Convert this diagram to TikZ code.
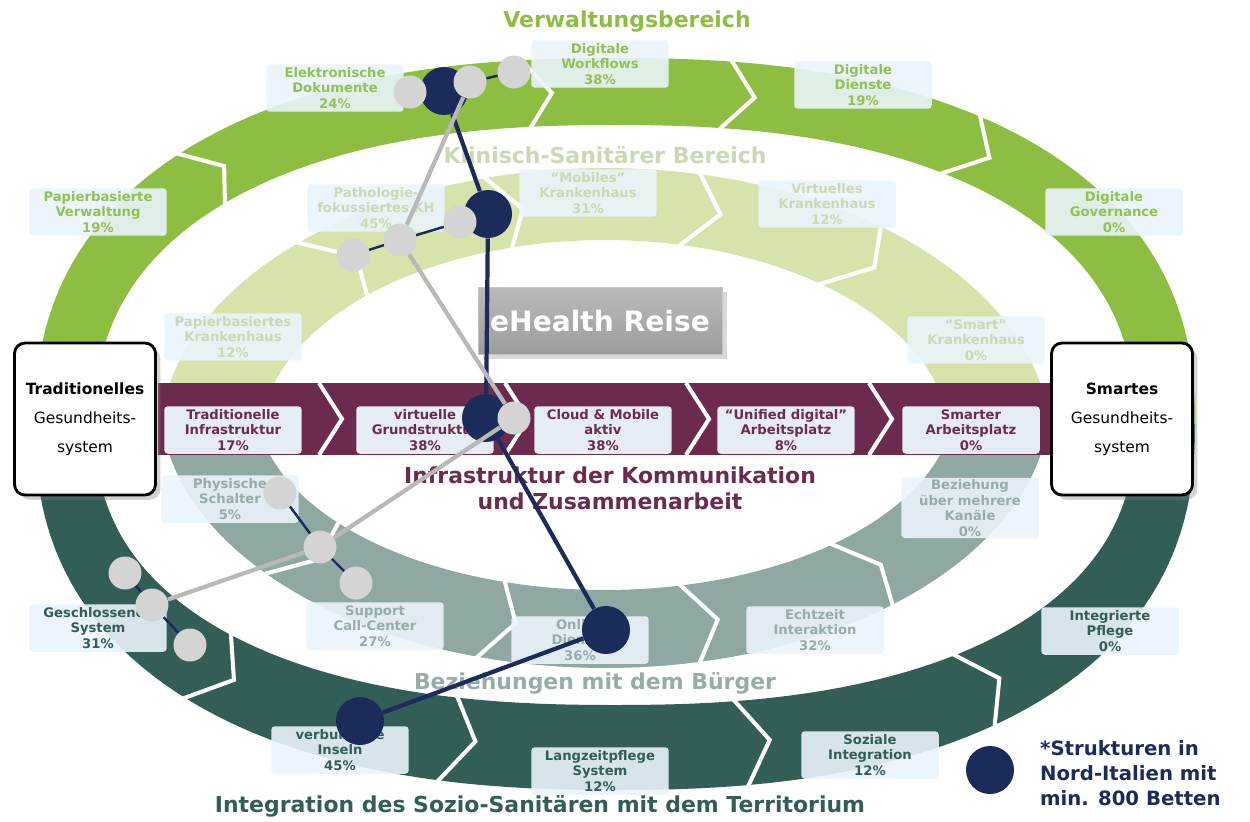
\documentclass[tikz,border=0pt]{standalone}
\usepackage{fontspec}
\setmainfont{DejaVu Sans}
\usepackage{xcolor}
\usetikzlibrary{shadows}

\definecolor{verwGreen}{RGB}{141,190,66}
\definecolor{verwText}{RGB}{146,192,82}
\definecolor{klinGreen}{RGB}{214,228,172}
\definecolor{klinText}{RGB}{203,217,178}
\definecolor{infraRed}{RGB}{108,42,78}
\definecolor{buergGray}{RGB}{143,168,163}
\definecolor{buergText}{RGB}{150,172,168}
\definecolor{terrTeal}{RGB}{50,94,87}
\definecolor{navy}{RGB}{27,43,90}
\definecolor{dotGray}{RGB}{212,212,212}
\definecolor{lineGray}{RGB}{184,184,184}
\definecolor{boxBlue}{RGB}{234,244,251}
\definecolor{ehGray}{RGB}{156,156,156}

\begin{document}
\begin{tikzpicture}[
  x=0.02cm, y=-0.02cm,
  declare function={sqc(\t)=cos(\t)*pow(abs(cos(\t))+0.0001,-0.15);
                    sqs(\t)=sin(\t)*pow(abs(sin(\t))+0.0001,-0.15);},
  chev/.style={white, line width=2.3pt},
  lbl/.style={rectangle, rounded corners=2pt, fill=boxBlue, fill opacity=0.9, text opacity=1,
    minimum width=2.75cm, minimum height=0.95cm, inner sep=1pt, align=center,
    font=\bfseries\fontsize{7.5}{8.8}\selectfont},
  verwlbl/.style={lbl, text=verwText},
  kliniklbl/.style={lbl, text=klinText},
  infralbl/.style={lbl, text=infraRed, fill opacity=0.96},
  buerglbl/.style={lbl, text=buergText},
  terrlbl/.style={lbl, text=terrTeal},
  ringtitle/.style={font=\bfseries\fontsize{12.5}{14.7}\selectfont, align=center},
  sidebox/.style={rectangle, rounded corners=6pt, draw=black, line width=1.6pt, fill=white,
    minimum width=2.82cm, minimum height=3.04cm, align=center, drop shadow={opacity=0.35},
    font=\fontsize{8.8}{16.5}\selectfont},
  ehbox/.style={rectangle, top color=ehGray!70, bottom color=ehGray, draw=ehGray!60,
    minimum width=4.88cm, minimum height=1.34cm, text=white, drop shadow={opacity=0.3},
    font=\bfseries\fontsize{16}{16}\selectfont},
  navydot/.style={circle, fill=navy, minimum size=0.96cm, inner sep=0pt},
  graydot/.style={circle, fill=dotGray, minimum size=0.66cm, inner sep=0pt},
  navyline/.style={navy, line width=2.4pt},
  rangeline/.style={navy, line width=1.4pt},
  avgline/.style={lineGray, line width=2.4pt}
]
  \useasboundingbox (0,0) rectangle (1250,821);
  \fill[white] (0,0) rectangle (1250,821);

  % Rings
  \fill[verwGreen] plot[domain=180:360, samples=91] ({615+580*sqc(\x)},{424+366*sqs(\x)})
    -- plot[domain=360:180, samples=91] ({615+520*sqc(\x)},{424+299*sqs(\x)}) -- cycle;
  \fill[terrTeal] plot[domain=0:180, samples=91] ({615+580*sqc(\x)},{424+366*sqs(\x)})
    -- plot[domain=180:0, samples=91] ({615+520*sqc(\x)},{424+281*sqs(\x)}) -- cycle;
  \fill[buergGray] plot[domain=0:180, samples=91] ({605+445*cos(\x)},{400+268*sin(\x)})
    -- plot[domain=180:0, samples=91] ({605+350*cos(\x)},{400+190*sin(\x)}) -- cycle;
  \fill[klinGreen] plot[domain=180:360, samples=91] ({605+445*cos(\x)},{440+272*sin(\x)})
    -- plot[domain=360:180, samples=91] ({605+345*cos(\x)},{440+200*sin(\x)}) -- cycle;
  \fill[infraRed] (158,383) rectangle (1052,455);

  % Chevrons
  \foreach \a/\d in {224/4, 263/2.5, 278.5/3, 305/4.5}
    \draw[chev] ({615+584*sqc(\a)},{424+370*sqs(\a)}) -- ({615+550*sqc(\a+\d)},{424+332*sqs(\a+\d)})
      -- ({615+516*sqc(\a)},{424+295*sqs(\a)});
  \foreach \a/\d in {135/4.5, 104.5/3, 80/3, 53/4}
    \draw[chev] ({615+584*sqc(\a)},{424+370*sqs(\a)}) -- ({615+550*sqc(\a-\d)},{424+323*sqs(\a-\d)})
      -- ({615+516*sqc(\a)},{424+277*sqs(\a)});
  \foreach \a/\d in {226/5, 254/4, 282/5, 308/5}
    \draw[chev] ({605+449*cos(\a)},{440+276*sin(\a)}) -- ({605+395*cos(\a+\d)},{440+236*sin(\a+\d)})
      -- ({605+341*cos(\a)},{440+196*sin(\a)});
  \foreach \a/\d in {140/4, 107/4, 78/4.5, 50/4}
    \draw[chev] ({605+449*cos(\a)},{400+272*sin(\a)}) -- ({605+397*cos(\a-\d)},{400+229*sin(\a-\d)})
      -- ({605+346*cos(\a)},{400+186*sin(\a)});
  \foreach \x in {319,505,686,869}
    \draw[chev] (\x,383) -- (\x+23,419) -- (\x,455);

  % Ring titles
  \node[ringtitle, text=verwGreen] (tVerw) at (627,22) {Verwaltungsbereich};
  \node[ringtitle, text=klinText] (tKlin) at (605,155) {Klinisch-Sanitärer Bereich};
  \node[ringtitle, text=infraRed] (tInfra) at (610,488) {Infrastruktur der Kommunikation\\und Zusammenarbeit};
  \node[ringtitle, text=buergText] (tBuerg) at (595,683) {Beziehungen mit dem Bürger};
  \node[ringtitle, text=terrTeal] (tTerr) at (540,806) {Integration des Sozio-Sanitären mit dem Territorium};

  % Stages
  \node[verwlbl] (papVerw) at (98,212) {Papierbasierte\\Verwaltung\\19\%};
  \node[verwlbl] (elekDok) at (335,88) {Elektronische\\Dokumente\\24\%};
  \node[verwlbl] (digWork) at (600,64) {Digitale\\Workflows\\38\%};
  \node[verwlbl] (digDienst) at (863,85) {Digitale\\Dienste\\19\%};
  \node[verwlbl] (digGov) at (1114,212) {Digitale\\Governance\\0\%};

  \node[kliniklbl] (papKH) at (233,337) {Papierbasiertes\\Krankenhaus\\12\%};
  \node[kliniklbl] (pathKH) at (376,208) {Pathologie-\\fokussiertes KH\\45\%};
  \node[kliniklbl] (mobKH) at (588,193) {“Mobiles”\\Krankenhaus\\31\%};
  \node[kliniklbl] (virtKH) at (827,204) {Virtuelles\\Krankenhaus\\12\%};
  \node[kliniklbl] (smartKH) at (976,340) {“Smart”\\Krankenhaus\\0\%};

  \node[infralbl] (tradInf) at (233,430) {Traditionelle\\Infrastruktur\\17\%};
  \node[infralbl] (virtGrund) at (425,430) {virtuelle\\Grundstruktur\\38\%};
  \node[infralbl] (cloudMob) at (603,430) {Cloud \& Mobile\\aktiv\\38\%};
  \node[infralbl] (unifArb) at (786,430) {“Unified digital”\\Arbeitsplatz\\8\%};
  \node[infralbl] (smartArb) at (971,430) {Smarter\\Arbeitsplatz\\0\%};

  \node[buerglbl] (physSch) at (230,499) {Physische\\Schalter\\5\%};
  \node[buerglbl] (suppCC) at (375,626) {Support\\Call-Center\\27\%};
  \node[buerglbl] (onlDienst) at (580,640) {Online\\Dienste\\36\%};
  \node[buerglbl] (echtInt) at (815,630) {Echtzeit\\Interaktion\\32\%};
  \node[buerglbl] (bezKan) at (970,508) {Beziehung\\über mehrere\\Kanäle\\0\%};

  \node[terrlbl] (geschSys) at (98,628) {Geschlossenes\\System\\31\%};
  \node[terrlbl] (verbIns) at (340,750) {verbundene\\Inseln\\45\%};
  \node[terrlbl] (langPfl) at (600,771) {Langzeitpflege\\System\\12\%};
  \node[terrlbl] (sozInt) at (870,755) {Soziale\\Integration\\12\%};
  \node[terrlbl] (intPfl) at (1110,631) {Integrierte\\Pflege\\0\%};

  % Center and ends
  \node[ehbox] (ehealth) at (600,321) {eHealth Reise};
  \node[sidebox] (trad) at (85,419) {\textbf{Traditionelles}\\Gesundheits-\\system};
  \node[sidebox] (smart) at (1122,419) {\textbf{Smartes}\\Gesundheits-\\system};

  % Path of the large structures
  \node[navydot] (nVerw) at (444,91) {};
  \node[navydot] (nKlin) at (488,214) {};
  \node[navydot] (nInfra) at (486,418) {};
  \node[navydot] (nBuerg) at (606,630) {};
  \node[navydot] (nTerr) at (360,721) {};
  \draw[navyline] (nVerw) -- (nKlin) -- (nInfra) -- (nBuerg) -- (nTerr);

  % Ranges and average
  \node[graydot] (gVerwA) at (410,92) {};
  \node[graydot] (gVerw) at (470,82) {};
  \node[graydot] (gVerwB) at (514,72) {};
  \node[graydot] (gKlinA) at (353,255) {};
  \node[graydot] (gKlin) at (400,240) {};
  \node[graydot] (gKlinB) at (460,222) {};
  \node[graydot] (gInfra) at (514,418) {};
  \node[graydot] (gBuergA) at (280,493) {};
  \node[graydot] (gBuerg) at (320,547) {};
  \node[graydot] (gBuergB) at (356,583) {};
  \node[graydot] (gTerrA) at (125,573) {};
  \node[graydot] (gTerr) at (152,605) {};
  \node[graydot] (gTerrB) at (190,645) {};
  \draw[rangeline] (gVerwA) -- (gVerw) -- (gVerwB);
  \draw[rangeline] (gKlinA) -- (gKlin) -- (gKlinB);
  \draw[rangeline] (gBuergA) -- (gBuerg) -- (gBuergB);
  \draw[rangeline] (gTerrA) -- (gTerr) -- (gTerrB);
  \draw[avgline] (gVerw) -- (gKlin) -- (gInfra) -- (gBuerg) -- (gTerr);

  % Legend
  \node[navydot] (legDot) at (990,770) {};
  \node[anchor=west, align=left, text=navy, font=\bfseries\fontsize{11.2}{14.2}\selectfont]
    (legText) at (1034,773) {*Strukturen in\\Nord-Italien mit\\min. 800 Betten};
\end{tikzpicture}
\end{document}
